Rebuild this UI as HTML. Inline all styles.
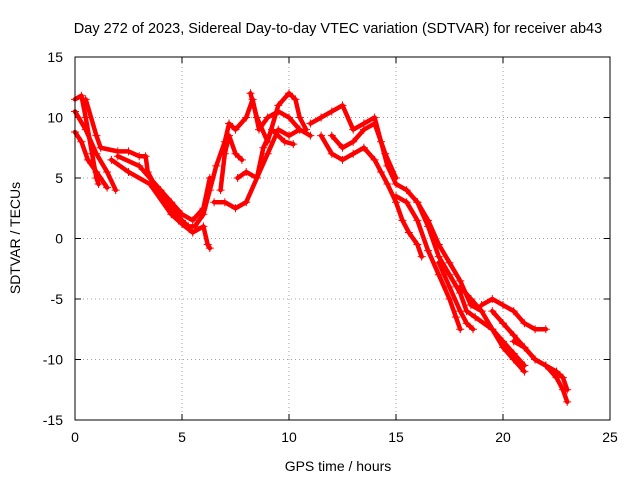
<!DOCTYPE html>
<html><head><meta charset="utf-8"><style>
body{margin:0;background:#fff;}
svg{display:block;font-family:"Liberation Sans",sans-serif;}
</style></head><body>
<svg id="chart" width="640" height="480">
<text x="338" y="33" font-size="14.5" text-anchor="middle">Day 272 of 2023, Sidereal Day-to-day VTEC variation (SDTVAR) for receiver ab43</text>
<text x="338" y="471" font-size="14" text-anchor="middle">GPS time / hours</text>
<text transform="translate(20,238) rotate(-90)" font-size="14" text-anchor="middle">SDTVAR / TECUs</text>
<g id="grid"></g>
<g id="ticks"></g>
<g id="marks"></g>
<rect x="75" y="57" width="535" height="363" fill="none" stroke="#000" stroke-width="1"/>
</svg>
<script>
const xTicks=[0,5,10,15,20,25];
const yTicks=[-15,-10,-5,0,5,10,15];
const track1=[[0,11.5],[0.3,11.8],[0.5,10],[0.8,7],[1.0,5],[1.1,4.5]];
const track2=[[0,10.5],[0.5,9],[1,7],[1.5,5.5],[1.9,4]];
const track3=[[0,8.8],[0.3,8],[0.6,6.5],[1.0,5.5],[1.5,4.2]];
const track4=[[0.5,11.5],[1.0,8.5],[1.2,7.5],[2,7.2],[2.5,7.2],[3,6.8],[3.3,6.8],[3.4,5.5],[4,3.5],[4.5,2.5],[5,1.5],[5.3,1],[5.6,1],[6,2],[6.3,4],[6.6,6],[7,8],[7.2,9.5],[7.5,9],[8,10],[8.3,11.5],[8.6,9],[9,10],[9.5,10.5],[10,10],[10.5,9],[11,8.5]];
const track5=[[1.7,6.5],[2.5,5.5],[3.5,4.5],[4.5,2],[5,1.2],[5.5,0.5],[6,1],[6.2,-0.5],[6.3,-0.8]];
const track6=[[2,6.8],[3,6],[4,4],[4.5,3],[5,2],[5.5,1.5],[6,2.5],[6.3,5]];
const track7=[[6.5,3],[7,3],[7.5,2.5],[8,3],[8.5,5],[9,7],[9.5,9],[10,8.5],[10.5,9]];
const track8=[[6.8,4],[7,7],[7.2,8.5],[7.5,7],[7.8,6.5]];
const track9=[[11,9.5],[11.5,10],[12,10.5],[12.5,11],[13,9],[13.5,9.5],[14,10],[14.3,8],[14.6,6],[15,4.5],[15.5,4],[16,3],[16.5,1.5],[17,-0.5],[17.5,-2],[18,-3.5],[18.5,-5.5],[19,-6]];
const track10=[[11.5,8.5],[12,7],[12.5,6.5],[13,7],[13.5,7.5],[14,6.5],[14.3,5.5],[14.6,4.5],[15,3],[15.3,1.5],[15.6,0.5],[16,-0.5],[16.2,-1.5]];
const track11=[[15,3.5],[15.5,3],[16,1.5],[16.5,-1],[17,-3],[17.5,-5],[17.8,-6.5],[18,-7.5]];
const track12=[[16,3],[16.5,1],[17,-1.5],[17.5,-3],[18,-4.5],[18.3,-6],[18.7,-6.5],[19.5,-7.5],[20,-8.5],[20.5,-9.5],[21,-10.5]];
const track13=[[19.5,-6],[20,-7],[20.5,-8],[21,-9],[21.5,-10],[22,-10.5],[22.5,-11.5],[22.8,-12.5],[23,-13.5]];
const track14=[[19,-5.5],[19.5,-5],[20,-5.5],[20.5,-6],[21,-7],[21.5,-7.5],[22,-7.5]];
const track15=[[18,-4],[18.5,-5],[19,-6],[19.5,-7.5],[20,-9],[20.5,-10],[21,-11]];
const track16=[[20.5,-8.5],[21,-9],[21.5,-10],[22,-10.5],[22.5,-11],[22.8,-11.5],[23,-12.5]];
const track17=[[17,-2],[17.5,-4],[18,-6],[18.3,-7],[18.6,-7.5]];
const track18=[[8.2,12],[8.5,10],[9,8],[9.5,11],[10,12],[10.3,11.5],[10.5,10],[10.8,9]];
const track19=[[7.6,5],[8,5.5],[8.5,5],[8.8,7.5],[9.2,9],[9.8,8],[10.2,7.8]];
const track20=[[12,8.5],[12.5,7.5],[13,8],[13.5,9],[14,9.5],[14.5,7],[15,5]];
const tracks=[track1,track2,track3,track4,track5,track6,track7,track8,track9,track10,track11,track12,track13,track14,track15,track16,track17,track18,track19,track20];

const NS="http://www.w3.org/2000/svg";
const X0=75,X1=610,Y0=420,Y1=57;
function xs(v){return X0+(v-0)/(25-0)*(X1-X0);}
function ys(v){return Y0-(v+15)/30*(Y0-Y1);}
function mk(tag,attrs,parent){const e=document.createElementNS(NS,tag);for(const k in attrs)e.setAttribute(k,attrs[k]);parent.appendChild(e);return e;}
const grid=document.getElementById('grid'),ticks=document.getElementById('ticks'),marks=document.getElementById('marks');
xTicks.forEach(t=>{
  const x=xs(t);
  if(t>0&&t<25){const g=mk('line',{x1:x,x2:x,y1:Y0,y2:Y1,stroke:'#a0a0a0','stroke-dasharray':'1,3'},grid);
  
  }
  mk('line',{x1:x,x2:x,y1:Y0,y2:Y0-6,stroke:'#000'},ticks);
  mk('line',{x1:x,x2:x,y1:Y1,y2:Y1+6,stroke:'#000'},ticks);
  const l=mk('text',{x:x,y:Y0+22,'font-size':14,'text-anchor':'middle'},ticks);l.textContent=t;
  
  
});
yTicks.forEach(t=>{
  const y=ys(t);
  if(t>-15&&t<15){const g=mk('line',{x1:X0,x2:X1,y1:y,y2:y,stroke:'#a0a0a0','stroke-dasharray':'1,3'},grid);
  
  }
  mk('line',{x1:X0,x2:X0+6,y1:y,y2:y,stroke:'#000'},ticks);
  mk('line',{x1:X1,x2:X1-6,y1:y,y2:y,stroke:'#000'},ticks);
  const l=mk('text',{x:X0-12,y:y+5,'font-size':14,'text-anchor':'end'},ticks);l.textContent=t;
  
  
});
tracks.forEach((tr)=>{
  const p=mk('polyline',{points:tr.map(d=>xs(d[0])+','+ys(d[1])).join(' '),fill:'none',stroke:'#f00','stroke-width':4.5,'stroke-linejoin':'round','stroke-linecap':'round'},marks);
  
  
  tr.forEach(d=>{
    const x=xs(d[0]),y=ys(d[1]);
    const m=mk('path',{d:`M${x-4},${y}H${x+4}M${x},${y-4}V${y+4}`,stroke:'#f00','stroke-width':1},marks);
    
    
  });
});
</script>
</body></html>
